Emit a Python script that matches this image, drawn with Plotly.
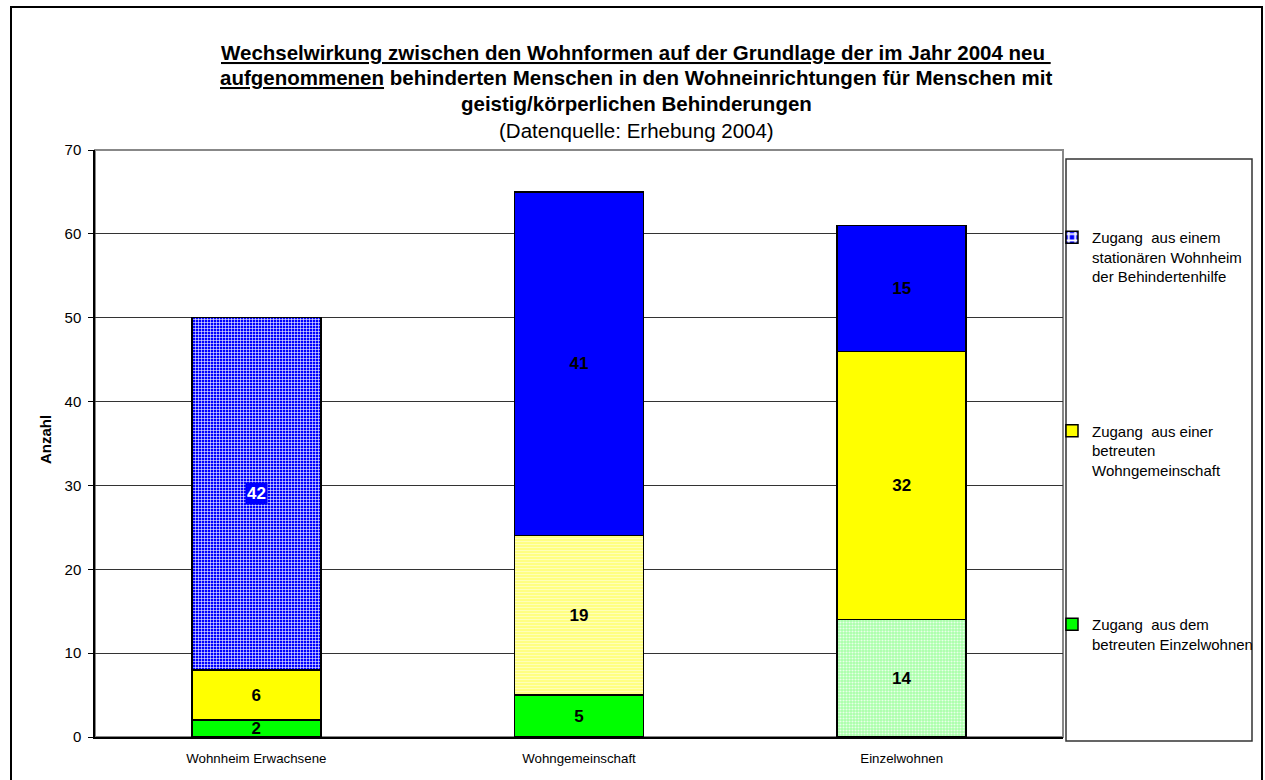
import plotly.graph_objects as go

categories = ["Wohnheim Erwachsene", "Wohngemeinschaft", "Einzelwohnen"]
einzelwohnen = [2, 5, 14]
wohngemeinschaft = [6, 19, 32]
wohnheim = [42, 41, 15]
series_names = [
    "Zugang  aus dem<br>betreuten Einzelwohnen",
    "Zugang  aus einer<br>betreuten<br>Wohngemeinschaft",
    "Zugang  aus einem<br>stationären Wohnheim<br>der Behindertenhilfe",
]
y_ticks = [0, 10, 20, 30, 40, 50, 60, 70]

W, H = 1265, 780
L, R, T, B = 95, 1063, 150, 737
PW, PH = R - L, B - T


def px(x):
    return (x - L) / PW


def py(y):
    return (B - y) / PH


FONT = "Arial, Liberation Sans, sans-serif"

fig = go.Figure()

# green series: highlighted (patterned) segment in Einzelwohnen
fig.add_trace(go.Bar(
    x=categories, y=einzelwohnen, name=series_names[0], legendgroup="g", legendrank=3,
    marker=dict(
        color="#00ff00",
        line=dict(color="black", width=1.5),
        pattern=dict(
            shape=["", "", "."],
            bgcolor=["#00ff00", "#00ff00", "#a8ffa8"],
            fgcolor=["#00ff00", "#00ff00", "#e8ffe8"],
            size=[4, 4, 3],
            solidity=[0.5, 0.5, 0.4],
            fillmode="replace",
        ),
    ),
    text=[str(v) for v in einzelwohnen],
))
# yellow series: highlighted segment in Wohngemeinschaft
fig.add_trace(go.Bar(
    x=categories, y=wohngemeinschaft, name=series_names[1], legendgroup="y", legendrank=2,
    marker=dict(
        color="#ffff00",
        line=dict(color="black", width=1.5),
        pattern=dict(
            shape=["", "-", ""],
            bgcolor=["#ffff00", "#ffff70", "#ffff00"],
            fgcolor=["#ffff00", "#ffffb8", "#ffff00"],
            size=[4, 3, 4],
            solidity=[0.5, 0.5, 0.5],
            fillmode="replace",
        ),
    ),
    text=[str(v) for v in wohngemeinschaft],
))
# blue series: highlighted segment in Wohnheim Erwachsene
fig.add_trace(go.Bar(
    x=categories, y=wohnheim, name=series_names[2], legendgroup="b", legendrank=1,
    marker=dict(
        color="#0000ff",
        line=dict(color="black", width=1.5),
        pattern=dict(
            shape=["+", "", ""],
            bgcolor=["#0000ff", "#0000ff", "#0000ff"],
            fgcolor=["white", "#0000ff", "#0000ff"],
            size=[3, 4, 4],
            solidity=[0.35, 0.5, 0.5],
            fillmode="replace",
        ),
    ),
    text=["" if i == 0 else str(v) for i, v in enumerate(wohnheim)],
))

fig.update_traces(
    textposition="inside", insidetextanchor="middle", constraintext="none",
    textangle=0,
    textfont=dict(family=FONT, size=17, color="black", weight="bold"),
    hoverinfo="skip",
)

# label of the highlighted blue segment: white on blue box
y42 = einzelwohnen[0] + wohngemeinschaft[0] + wohnheim[0] / 2
annotations = [dict(
    x=categories[0], y=y42, xref="x", yref="y", text="<b>42</b>",
    showarrow=False, font=dict(family=FONT, size=17, color="white"),
    bgcolor="#0000ff", borderpad=1,
)]

title_lines = [
    ("<b><u>Wechselwirkung zwischen den Wohnformen auf der Grundlage der im Jahr 2004 neu </u></b>", 52),
    ("<b><u>aufgenommenen</u> behinderten Menschen in den Wohneinrichtungen für Menschen mit</b>", 78),
    ("<b>geistig/körperlichen Behinderungen</b>", 104),
    ("(Datenquelle: Erhebung 2004)", 130),
]
for txt, yy in title_lines:
    annotations.append(dict(
        x=px(636), y=py(yy), xref="paper", yref="paper", text=txt,
        showarrow=False, xanchor="center", yanchor="middle",
        font=dict(family=FONT, size=20.5, color="black"),
    ))

annotations.append(dict(
    x=px(45), y=py(440), xref="paper", yref="paper", text="<b>Anzahl</b>",
    showarrow=False, textangle=-90, xanchor="center", yanchor="middle",
    font=dict(family=FONT, size=15, color="black"),
))

shapes = [
    # outer chart border
    dict(type="rect", xref="paper", yref="paper",
         x0=px(11), x1=px(1262), y0=py(790), y1=py(7),
         line=dict(color="black", width=2), layer="below"),
    # plot area border (gray)
    dict(type="rect", xref="paper", yref="paper",
         x0=0, x1=1, y0=0, y1=1,
         line=dict(color="#888888", width=2), layer="below"),
    # legend box
    dict(type="rect", xref="paper", yref="paper",
         x0=px(1066), x1=px(1252), y0=py(741), y1=py(159),
         line=dict(color="#333333", width=1.5), layer="below"),
]

fig.update_layout(
    width=W, height=H,
    margin=dict(l=L, r=W - R, t=T, b=H - B, autoexpand=False),
    paper_bgcolor="white", plot_bgcolor="white",
    barmode="stack", bargap=0.6,
    font=dict(family=FONT, color="black"),
    annotations=annotations, shapes=shapes,
    showlegend=True,
    legend=dict(
        x=px(1052), y=py(221), xanchor="left", yanchor="top",
        traceorder="grouped", tracegroupgap=132,
        valign="top", font=dict(family=FONT, size=15, color="black"),
        bgcolor="rgba(0,0,0,0)", borderwidth=0,
        itemwidth=30,
    ),
    xaxis=dict(
        showline=True, linecolor="black", linewidth=2,
        tickfont=dict(family=FONT, size=13.3, color="black"),
        ticks="", ticklabelstandoff=8,
    ),
    yaxis=dict(
        range=[0, 70], tickvals=y_ticks,
        showgrid=True, gridcolor="#333333", gridwidth=1,
        showline=True, linecolor="black", linewidth=1.5,
        ticks="outside", ticklen=5, tickcolor="black",
        tickfont=dict(family=FONT, size=15, color="black"),
        ticklabelstandoff=4,
        zeroline=False,
    ),
)

fig.write_html(
    "out.html",
    config={"displayModeBar": False},
    post_script="document.body.style.margin='0';"
                "document.documentElement.style.overflow='hidden';"
                "document.body.style.overflow='hidden';",
)
